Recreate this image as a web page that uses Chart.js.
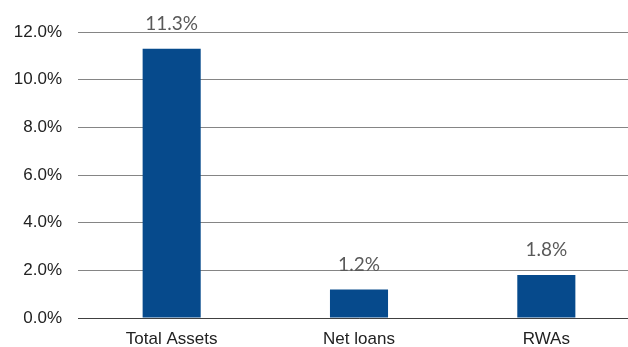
<!DOCTYPE html>
<html><head><meta charset="utf-8">
<script src="https://cdn.jsdelivr.net/npm/chart.js@4/dist/chart.umd.min.js"></script>
<style>
html,body{margin:0;padding:0;background:#fff;overflow:hidden;}
#wrap{width:640px;height:347px;position:relative;}
</style></head>
<body><div id="wrap"><canvas id="c"></canvas></div>
<script>
const categories = ["Total Assets", "Net loans", "RWAs"];
const values = [11.3, 1.2, 1.8];
const valueLabels = ["11.3%", "1.2%", "1.8%"];
const yTicks = [0, 2, 4, 6, 8, 10, 12];

const labelPlugin = {
  id: 'valLabels',
  afterDatasetsDraw(chart) {
    const ctx = chart.ctx;
    const meta = chart.getDatasetMeta(0);
    ctx.save();
    ctx.font = '19px Lato';
    ctx.fillStyle = '#595959';
    ctx.textAlign = 'center';
    ctx.textBaseline = 'middle';
    meta.data.forEach((bar, i) => {
      ctx.fillText(valueLabels[i], bar.x, bar.y - 25);
    });
    ctx.restore();
  }
};

new Chart(document.getElementById('c'), {
  type: 'bar',
  data: {
    labels: categories,
    datasets: [{
      data: values,
      backgroundColor: '#064a8c',
      barPercentage: 0.62,
      categoryPercentage: 0.5
    }]
  },
  options: {
    responsive: true,
    maintainAspectRatio: false,
    animation: false,
    layout: { padding: { top: 32, right: 0, left: 0, bottom: 0 } },
    plugins: { legend: { display: false }, tooltip: { enabled: false } },
    scales: {
      x: {
        grid: { display: false, drawTicks: false },
        border: { display: true, color: '#404040', width: 1 },
        ticks: { color: '#222', font: { family: 'Liberation Sans', size: 17 }, padding: 11, maxRotation: 0 },
        afterFit(s) { s.height = 29; }
      },
      y: {
        min: 0, max: 12,
        afterBuildTicks(s) { s.ticks = yTicks.map(v => ({ value: v })); },
        grid: { color: '#858585', drawTicks: false, lineWidth: 1 },
        border: { display: false },
        ticks: {
          color: '#222', font: { family: 'Liberation Sans', size: 17 }, padding: 16,
          callback: v => v.toFixed(1) + '%'
        },
        afterFit(s) { s.width = 78; }
      }
    }
  },
  plugins: [labelPlugin]
});
</script></body></html>
